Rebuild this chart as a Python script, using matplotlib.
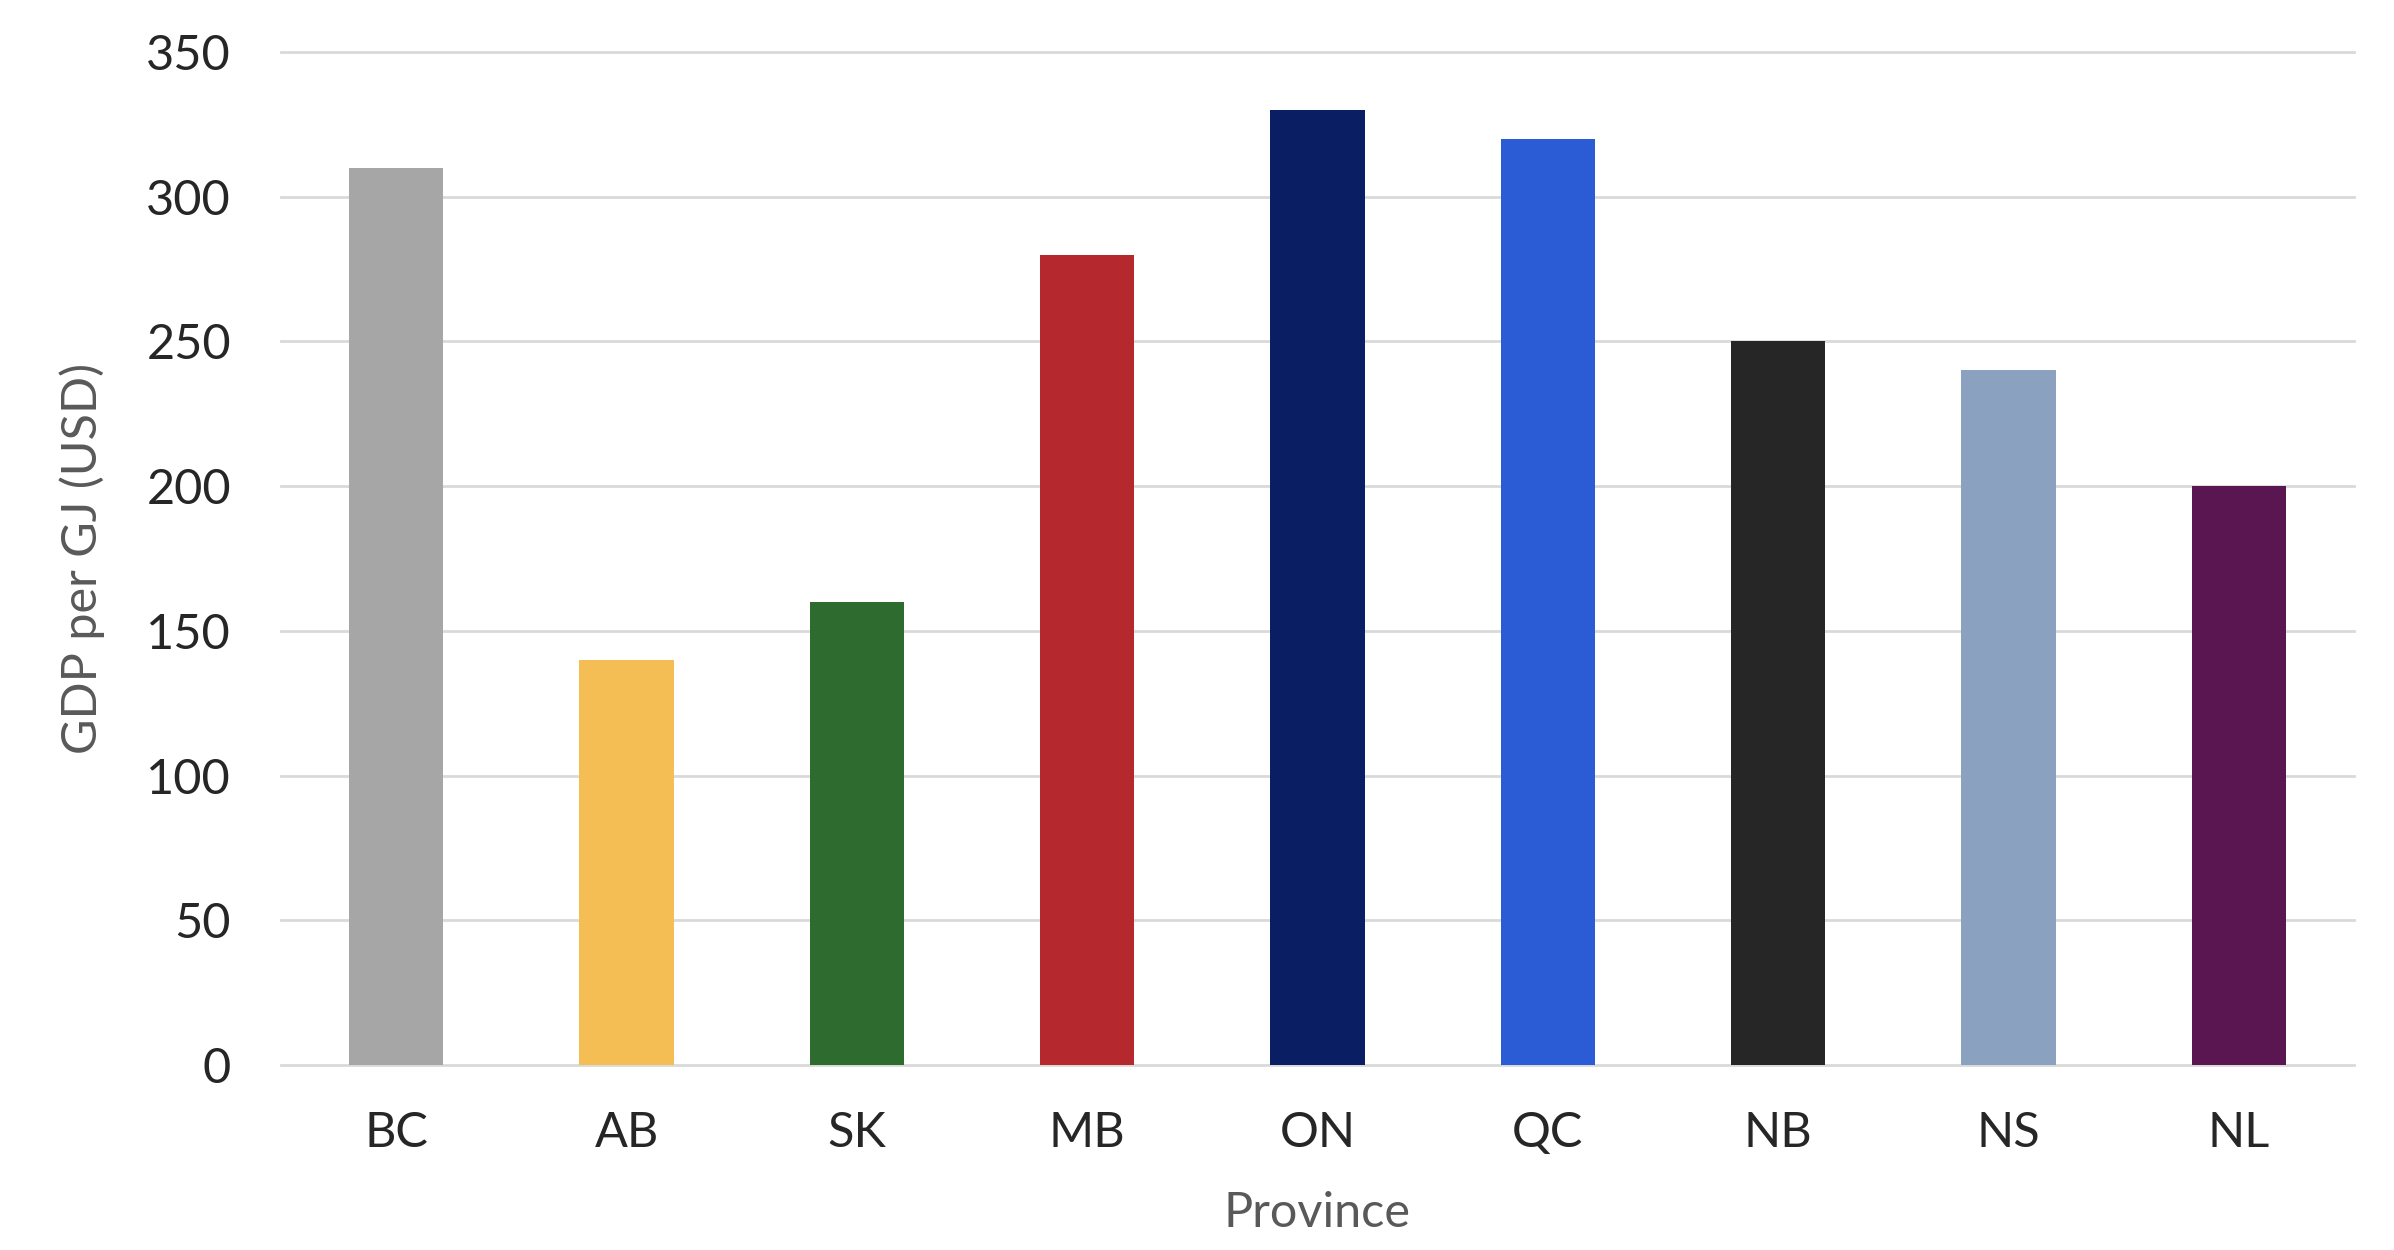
import matplotlib
matplotlib.use("Agg")
import matplotlib.pyplot as plt

provinces = ["BC", "AB", "SK", "MB", "ON", "QC", "NB", "NS", "NL"]
gdp_per_gj = [310, 140, 160, 280, 330, 320, 250, 240, 200]
bar_colors = ["#a6a6a6", "#f5be55", "#2e6b2e", "#b5292e", "#0a1f63",
              "#2b5cd6", "#262626", "#8aa2c0", "#5a1650"]
y_ticks = [0, 50, 100, 150, 200, 250, 300, 350]

plt.rcParams['font.family'] = ['Lato', 'DejaVu Sans']

fig = plt.figure(figsize=(23.94, 12.5), dpi=100)
ax = fig.add_axes([281/2394, 1 - 1065/1250, (2354-281)/2394, (1065-52)/1250])

x = list(range(len(provinces)))
ax.bar(x, gdp_per_gj, width=0.41, color=bar_colors, zorder=3)

ax.set_xlim(-0.5, len(provinces) - 0.5)
ax.set_ylim(0, 350)
ax.set_yticks(y_ticks)
ax.set_yticklabels([str(t) for t in y_ticks])
ax.set_xticks(x)
ax.set_xticklabels(provinces)

for t in y_ticks:
    ax.axhline(t, color="#d9d9d9", linewidth=2.0, zorder=1, clip_on=False)

for s in ax.spines.values():
    s.set_visible(False)
ax.tick_params(axis='both', length=0, labelsize=35, colors="#262626")
ax.tick_params(axis='y', pad=36)
ax.tick_params(axis='x', pad=33)

ax.set_xlabel("Province", fontsize=35, color="#595959", labelpad=26)
ax.set_ylabel("GDP per GJ (USD)", fontsize=35, color="#595959", labelpad=30)

fig.savefig("out.png", dpi=100, facecolor="white")
